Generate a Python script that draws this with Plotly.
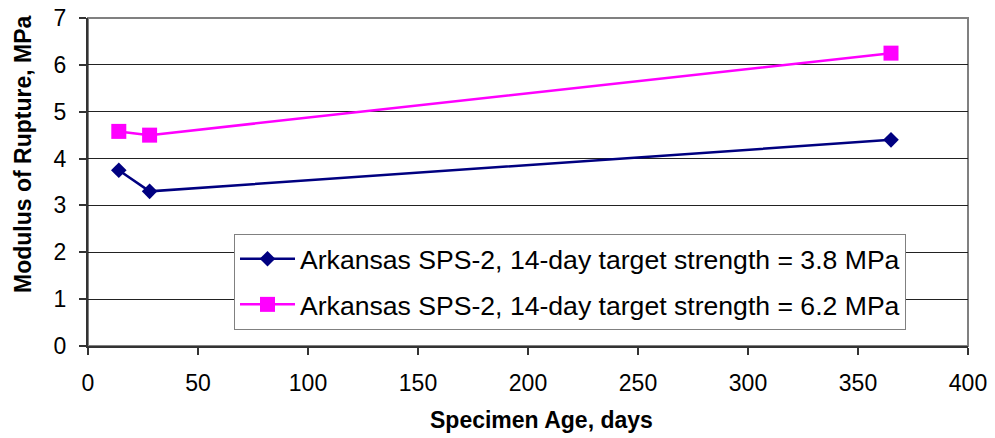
import plotly.graph_objects as go

age_days = [14, 28, 365]
mor_38 = [3.75, 3.3, 4.4]
mor_62 = [4.58, 4.5, 6.25]
name_38 = "Arkansas SPS-2, 14-day target strength = 3.8 MPa"
name_62 = "Arkansas SPS-2, 14-day target strength = 6.2 MPa"
x_ticks = [0, 50, 100, 150, 200, 250, 300, 350, 400]
y_ticks = [0, 1, 2, 3, 4, 5, 6, 7]

FONT = "Liberation Sans, Arial, sans-serif"
L, R, T, B = 88, 968, 18, 346  # target plot area in page pixels
W, H = 995, 438

fig = go.Figure()
fig.add_trace(go.Scatter(x=age_days, y=mor_38, mode="lines+markers", name=name_38,
                         legendgroup="a",
                         line=dict(color="#000080", width=2.5),
                         marker=dict(symbol="diamond", size=12, color="#000080")))
fig.add_trace(go.Scatter(x=age_days, y=mor_62, mode="lines+markers", name=name_62,
                         legendgroup="b",
                         line=dict(color="#FF00FF", width=2.5),
                         marker=dict(symbol="square", size=15, color="#FF00FF")))

pw, ph = R - L, B - T

fig.update_layout(
    template="none",
    width=W, height=H,
    margin=dict(l=L, r=W - R, t=T, b=H - B, pad=0, autoexpand=False),
    paper_bgcolor="white", plot_bgcolor="white",
    font=dict(family=FONT, color="black", size=22),
    showlegend=True,
    legend=dict(x=(234 - L) / pw, y=(B - 234) / ph, xanchor="left", yanchor="top",
                bgcolor="white", bordercolor="#808080", borderwidth=1,
                font=dict(size=26.6, family=FONT), itemwidth=55,
                tracegroupgap=8, traceorder="grouped"),
    shapes=[dict(type="rect", xref="paper", yref="paper", x0=0, x1=1, y0=0, y1=1,
                 line=dict(color="#808080", width=2), layer="below")],
    annotations=[
        dict(text="<b>Specimen Age, days</b>", xref="paper", yref="paper",
             x=(541 - L) / pw, y=(B - 420) / ph, xanchor="center", yanchor="middle",
             showarrow=False, font=dict(size=23, family=FONT)),
        dict(text="<b>Modulus of Rupture, MPa</b>", xref="paper", yref="paper",
             x=(23 - L) / pw, y=(B - 155) / ph, xanchor="center", yanchor="middle",
             textangle=-90, showarrow=False, font=dict(size=23, family=FONT)),
    ],
)
fig.update_xaxes(range=[0, 400], tickvals=x_ticks, ticks="outside", ticklen=7,
                 tickcolor="#333333", tickwidth=1.5, showgrid=False, zeroline=False,
                 showline=True, linecolor="#333333", linewidth=2, automargin=False,
                 tickfont=dict(size=23), ticklabelstandoff=8, ticklabeloverflow="allow")
fig.update_yaxes(range=[0, 7], tickvals=y_ticks, ticks="outside", ticklen=7,
                 tickcolor="#333333", tickwidth=1.5, showgrid=True, gridcolor="#222222",
                 gridwidth=1, zeroline=False, automargin=False,
                 showline=True, linecolor="#333333", linewidth=2,
                 tickfont=dict(size=23), ticklabelstandoff=8, ticklabeloverflow="allow")
fig.write_html("out.html", config={"displayModeBar": False},
               post_script="document.body.style.margin='0';document.body.style.overflow='hidden';")
